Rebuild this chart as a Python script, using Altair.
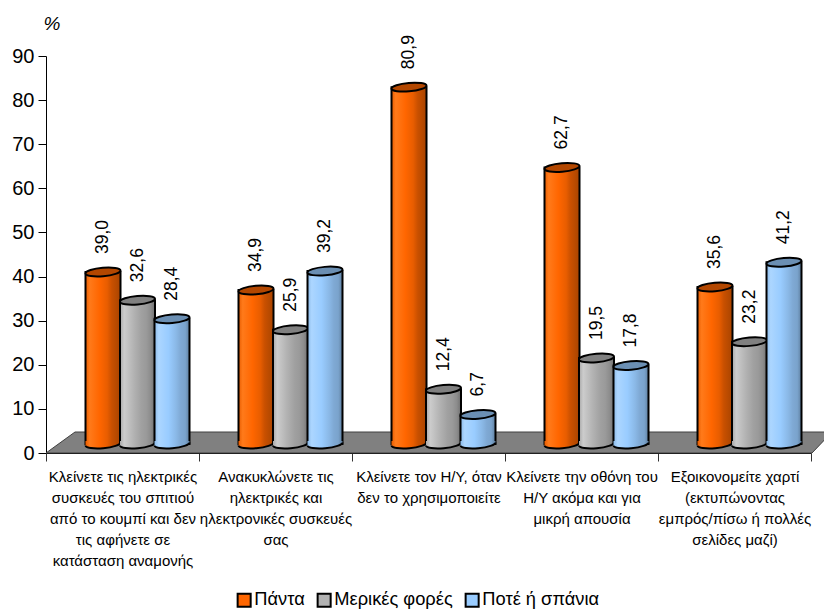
import altair as alt
import pandas as pd

categories = [
    "Κλείνετε τις ηλεκτρικές|συσκευές του σπιτιού|από το κουμπί και δεν|τις αφήνετε σε|κατάσταση αναμονής",
    "Ανακυκλώνετε τις|ηλεκτρικές και|ηλεκτρονικές συσκευές|σας",
    "Κλείνετε τον Η/Υ, όταν|δεν το χρησιμοποιείτε",
    "Κλείνετε την οθόνη του|Η/Υ ακόμα και για|μικρή απουσία",
    "Εξοικονομείτε χαρτί|(εκτυπώνοντας|εμπρός/πίσω ή πολλές|σελίδες μαζί)",
]
series = ["Πάντα", "Μερικές φορές", "Ποτέ ή σπάνια"]
panta = [39.0, 34.9, 80.9, 62.7, 35.6]
merikes = [32.6, 25.9, 12.4, 19.5, 23.2]
pote = [28.4, 39.2, 6.7, 17.8, 41.2]
flat_colors = ["#FF6600", "#B2B2B2", "#99CCFF"]
cap_colors = ["#B34700", "#808080", "#6B8FB3"]
body_stops = [
    ["#E85D00", "#FF7A1A", "#FF6600", "#E85D00", "#C95000", "#B84A00", "#A84300"],
    ["#A8A8A8", "#CCCCCC", "#B2B2B2", "#A0A0A0", "#9A9A9A", "#8C8C8C", "#707070"],
    ["#8CBAE8", "#ACD6FF", "#99CCFF", "#8AB8E6", "#7FA9D4", "#7AA3CC", "#5F7F9F"],
]
stop_offsets = [0, 0.12, 0.4, 0.62, 0.75, 0.88, 1]

rows = []
for c, a, b, d in zip(categories, panta, merikes, pote):
    for s, v in zip(series, (a, b, d)):
        rows.append({"cat": c, "series": s, "value": v, "base": 0,
                     "label": f"{v:.1f}".replace(".", ",")})
df = pd.DataFrame(rows)

W, H = 765, 397
LIFT = -9
x = alt.X("cat:N", sort=categories, title=None,
          scale=alt.Scale(paddingInner=0, paddingOuter=0),
          axis=alt.Axis(tickBand="extent", labelAngle=0, labelExpr="split(datum.label, '|')",
                        labelFontSize=15, labelFont="Liberation Sans", labelColor="black",
                        labelAlign="center", labelLimit=0, labelOverlap=False, labelLineHeight=21,
                        labelPadding=8, labelBaseline="top", tickSize=8, tickColor="#333333",
                        domainColor="black", domainWidth=1, grid=False))
y = alt.Y("value:Q", stack=None, title=None,
          scale=alt.Scale(domain=[0, 90], nice=False),
          axis=alt.Axis(values=list(range(0, 100, 10)), tickSize=8, tickColor="black",
                        domainColor="black", labelFontSize=20, labelFont="Liberation Sans",
                        labelColor="black", labelPadding=4, grid=False))
xo = alt.XOffset("series:N", sort=series,
                 scale=alt.Scale(type="point", domain=series, range=[57, 126], padding=0))
xo_text = alt.XOffset("series:N", sort=series,
                      scale=alt.Scale(type="point", domain=series, range=[53, 132], padding=0))


def grad(i):
    return alt.Gradient(gradient="linear", x1=0, x2=1, y1=0, y2=0,
                        stops=[alt.GradientStop(offset=o, color=c)
                               for o, c in zip(stop_offsets, body_stops[i])])


CAP = "M-17.5,1.5 A17.5,4.2 -5 1 1 17.5,-1.5 A17.5,4.2 -5 1 1 -17.5,1.5 Z"
BASE_FILL = "M-17.5,-3 L17.5,-3 L17.5,-1 A17.5,4.2 -5 0 1 -17.5,1.5 Z"
BASE_EDGE = "M17.5,-1.5 A17.5,4.2 -5 0 1 -17.5,1.5"
FLOOR = "M0,0 L29,-21 L786,-21 L766,0 Z"

floor = alt.Chart(pd.DataFrame({"cat": [categories[0]], "base": [0]})).mark_point(
    shape=FLOOR, size=4, filled=True, fill="#808080", stroke="#404040", strokeWidth=1, opacity=1
).encode(x=alt.X("cat:N", sort=categories, bandPosition=0), y=alt.Y("base:Q"))

legend_layer = alt.Chart(df).mark_bar(size=1, opacity=1, yOffset=LIFT, y2Offset=LIFT).encode(
    x=x, xOffset=xo, y=y, y2="base:Q",
    color=alt.Color("series:N", sort=series,
                    scale=alt.Scale(domain=series, range=flat_colors),
                    legend=alt.Legend(title=None, orient="none", legendX=189, legendY=535,
                                      direction="horizontal", symbolType="square", symbolSize=170,
                                      symbolStrokeColor="black", symbolStrokeWidth=2,
                                      labelFontSize=18.3, labelFont="Liberation Sans",
                                      labelColor="black", columns=3, columnPadding=8,
                                      labelOffset=1, symbolOpacity=1)),
)

layers = [floor, legend_layer]
for i, s in enumerate(series):
    sub = alt.Chart(df[df["series"] == s])
    layers.append(sub.mark_bar(size=35, fill=grad(i), stroke="black", strokeWidth=2,
                               yOffset=LIFT, y2Offset=LIFT).encode(x=x, xOffset=xo, y=y, y2="base:Q"))
    layers.append(sub.mark_point(shape=BASE_FILL, size=4, filled=True, fill=grad(i), strokeWidth=0,
                                 opacity=1, yOffset=LIFT).encode(x=x, xOffset=xo, y=alt.Y("base:Q")))
    layers.append(sub.mark_point(shape=BASE_EDGE, size=4, filled=False, stroke="black", strokeWidth=2,
                                 opacity=1, yOffset=LIFT).encode(x=x, xOffset=xo, y=alt.Y("base:Q")))
    layers.append(sub.mark_point(shape=CAP, size=4, filled=True, fill=cap_colors[i], stroke="black",
                                 strokeWidth=2, opacity=1, yOffset=LIFT).encode(x=x, xOffset=xo, y=y))

labels = alt.Chart(df).mark_text(angle=270, align="left", baseline="middle", dx=27, fontSize=17.5,
                                 font="Liberation Sans", color="black").encode(
    x=x, xOffset=xo_text, y=y, text="label:N")
pct = alt.Chart(pd.DataFrame({"t": ["%"]})).mark_text(fontStyle="italic", fontSize=19, font="Liberation Sans",
                                                      color="black").encode(
    x=alt.value(6), y=alt.value(-32), text="t:N")

chart = alt.layer(*layers, labels, pct).properties(
    width=W, height=H, autosize=alt.AutoSizeParams(type="none"),
    padding={"left": 38, "top": 48, "right": 13, "bottom": 156},
).configure_view(stroke=None)

chart.save("out.html", embed_options={"renderer": "svg", "actions": False})
